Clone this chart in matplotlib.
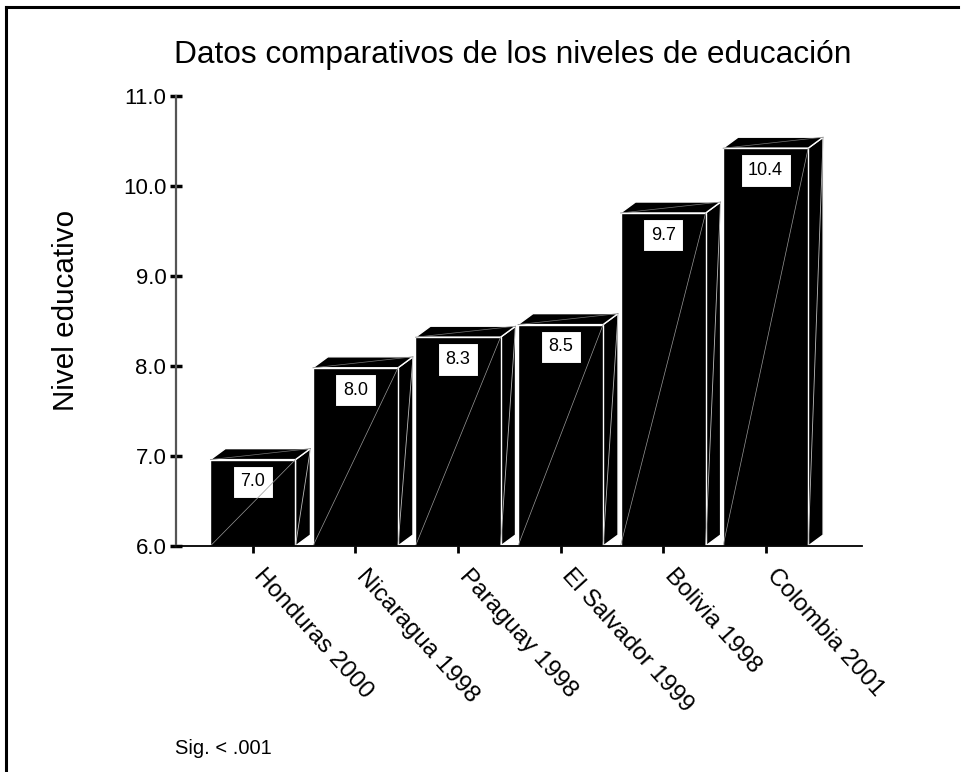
import matplotlib
matplotlib.use("Agg")
from matplotlib import pyplot as plt
from matplotlib.patches import Polygon
from matplotlib.lines import Line2D
from matplotlib.transforms import ScaledTranslation

plt.rcParams['font.family'] = ['Liberation Sans', 'DejaVu Sans']

# data
countries = ['Honduras 2000', 'Nicaragua 1998', 'Paraguay 1998',
             'El Salvador 1999', 'Bolivia 1998', 'Colombia 2001']
levels = [6.96, 7.98, 8.32, 8.46, 9.70, 10.42]
y_ticks = [6.0, 7.0, 8.0, 9.0, 10.0, 11.0]

title = 'Datos comparativos de los niveles de educación'
y_label = 'Nivel educativo'
note = 'Sig. < .001'

W, H, DPI = 961, 772, 100
fig = plt.figure(figsize=(W / DPI, H / DPI), dpi=DPI)

# axes box in pixels: left 176, right 862, top 96, bottom 546
ax = fig.add_axes([176 / W, (H - 546) / H, (862 - 176) / W, (546 - 96) / H])
ax.set_xlim(-0.75, 5.94)
ax.set_ylim(6.0, 11.0)
ax.patch.set_visible(False)

bar_w = 0.83
dx = 0.146   # depth offset (x, data units)
dy = 0.122   # depth offset (y, data units)
base = 6.0

for i, v in enumerate(levels):
    x0 = i - bar_w / 2
    x1 = i + bar_w / 2
    front = Polygon([(x0, base), (x1, base), (x1, v), (x0, v)],
                    closed=True, fc='black', ec='white', lw=1.0, zorder=2)
    side = Polygon([(x1, base), (x1 + dx, base + dy), (x1 + dx, v + dy), (x1, v)],
                   closed=True, fc='black', ec='white', lw=1.0, zorder=2)
    top = Polygon([(x0, v), (x1, v), (x1 + dx, v + dy), (x0 + dx, v + dy)],
                  closed=True, fc='black', ec='white', lw=1.0, zorder=2)
    for p in (side, top, front):
        ax.add_patch(p)
    # faint diagonals on the faces
    ax.plot([x0, x1], [base, v], color='#999999', lw=0.5, zorder=5)
    ax.plot([x1, x1 + dx], [base, v + dy], color='#bbbbbb', lw=0.6, zorder=5)
    ax.plot([x0, x1 + dx], [v, v + dy], color='#777777', lw=0.5, zorder=5)
    ax.annotate(f'{v:.1f}', xy=(i, v), xytext=(0, -16), textcoords='offset points',
                ha='center', va='center', fontsize=13, zorder=4,
                bbox=dict(boxstyle='square,pad=0.42', fc='white', ec='black', lw=0.8))

for s in ('top', 'right'):
    ax.spines[s].set_visible(False)
ax.spines['left'].set_color('#555555')
ax.spines['left'].set_linewidth(1.6)
ax.spines['bottom'].set_color('black')
ax.spines['bottom'].set_linewidth(1.3)
ax.spines['bottom'].set_zorder(6)

ax.set_yticks(y_ticks)
ax.set_yticklabels([f'{t:.1f}' for t in y_ticks], fontsize=16)
ax.tick_params(axis='y', direction='inout', length=8, width=2.5, color='black', pad=3)

ax.set_xticks(range(len(countries)))
ax.set_xticklabels(countries, fontsize=17.5, rotation=-48, ha='left', va='center',
                   rotation_mode='anchor')
ax.tick_params(axis='x', direction='out', length=5, width=2, color='black', pad=14)
for lab in ax.get_xticklabels():
    lab.set_transform(lab.get_transform() + ScaledTranslation(5 / DPI, 0, fig.dpi_scale_trans))

fig.text(0.533, 0.929, title, ha='center', va='center', fontsize=22.8)
fig.text(66 / W, 1 - 310 / H, y_label, ha='center', va='center', rotation=90, fontsize=21.3)
fig.text(175 / W, 1 - 748 / H, note, ha='left', va='center', fontsize=14.5)

# outer frame (left and top edges)
fig.add_artist(Line2D([6 / W, 6 / W], [0, 1 - 7 / H], transform=fig.transFigure,
                      color='black', lw=2.2))
fig.add_artist(Line2D([6 / W, 958 / W], [1 - 7 / H, 1 - 7 / H], transform=fig.transFigure,
                      color='black', lw=2.2))

fig.savefig('out.png', dpi=DPI, facecolor='white')
